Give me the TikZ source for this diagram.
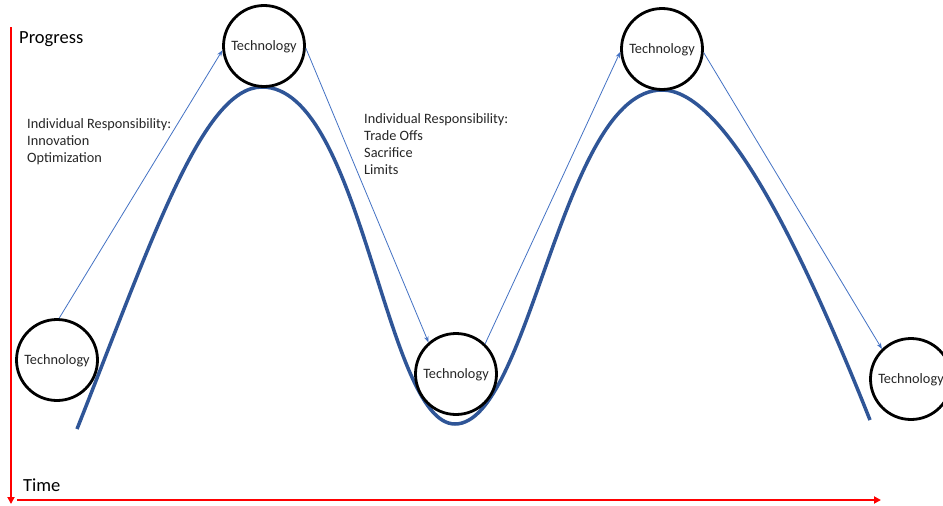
\documentclass[tikz,border=0pt]{standalone}
\usepackage{fontspec}
\setmainfont{Carlito}
\usetikzlibrary{arrows.meta}
\definecolor{curveblue}{HTML}{2F5597}
\definecolor{arrowblue}{HTML}{4472C4}
\definecolor{txtgray}{HTML}{262626}
\begin{document}
\begin{tikzpicture}[x=1pt,y=-1pt,
  tech/.style={circle,draw=black,line width=2.8pt,fill=white,minimum size=81pt,inner sep=0pt,font=\fontsize{14.3}{17}\selectfont,text=txtgray,text depth=0pt},
  lbl/.style={anchor=base west,inner sep=0pt,font=\fontsize{14.3}{17}\selectfont,text=txtgray},
  axlbl/.style={anchor=base west,inner sep=0pt,font=\fontsize{18.5}{22}\selectfont,text=black},
  flow/.style={draw=arrowblue,line width=0.8pt,-{Stealth[length=6pt,width=4.5pt]}},
  axisline/.style={draw=red,line width=2.6pt,-{Triangle[length=7pt,width=7pt]}},
  wave/.style={draw=curveblue,line width=3.5pt}]
\useasboundingbox[fill=white] (0,0) rectangle (943,506);

% axes
\coordinate (ytop) at (11,27);
\coordinate (ybot) at (11,504);
\coordinate (xl) at (17,500);
\coordinate (xr) at (881,500);
\draw[axisline] (ytop) -- (ybot);
\draw[axisline] (xl) -- (xr);
\node[axlbl] (progress) at (19,43) {Progress};
\node[axlbl] (time) at (23,491) {Time};

% wave
\draw[wave] (77,429) .. controls (151,243) and (202,87) .. (262,87)
  .. controls (362,87) and (385,424) .. (455,424)
  .. controls (530,424) and (562,90) .. (662,90)
  .. controls (722,90) and (796,234) .. (870,420);

% text blocks
\node[lbl] (l1) at (27,128) {Individual Responsibility:};
\node[lbl] (l2) at (27,145) {Innovation};
\node[lbl] (l3) at (27,162) {Optimization};
\node[lbl] (r1) at (364,123) {Individual Responsibility:};
\node[lbl] (r2) at (364,140) {Trade Offs};
\node[lbl] (r3) at (364,157) {Sacrifice};
\node[lbl] (r4) at (364,174) {Limits};

% circles
\node[tech] (c1) at (57,360) {Technology};
\node[tech] (c2) at (264,46) {Technology};
\node[tech] (c3) at (456,374) {Technology};
\node[tech] (c4) at (662,49) {Technology};
\node[tech] (c5) at (911,379) {Technology};

% flow arrows
\draw[flow] (c1.87) -- (c2.186);
\draw[flow] (c2.-3) -- (c3.131);
\draw[flow] (c3.46) -- (c4.184);
\draw[flow] (c4.-5) -- (c5.134);
\end{tikzpicture}
\end{document}
